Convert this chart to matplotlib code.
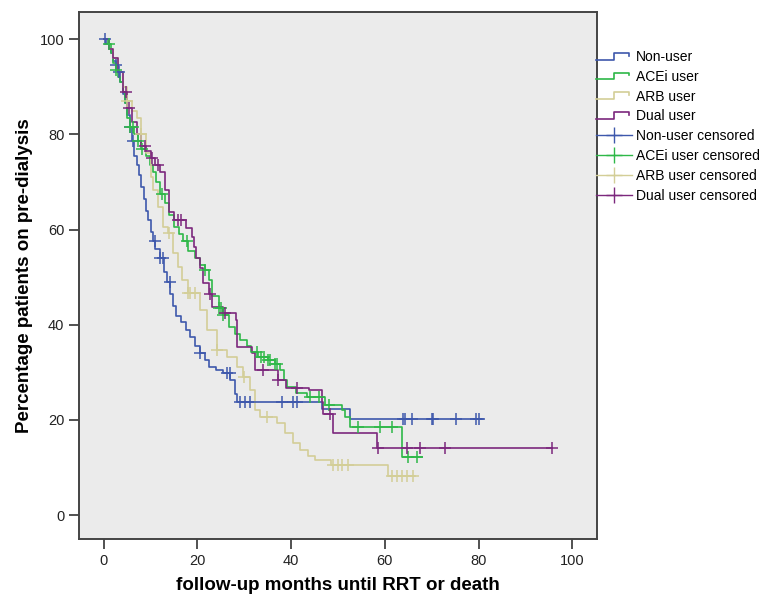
import matplotlib
matplotlib.use("Agg")
import matplotlib.pyplot as plt
from matplotlib.legend_handler import HandlerBase
from matplotlib.lines import Line2D
import numpy as np

# ── Kaplan-Meier step curves (months, % still on pre-dialysis) ─────────────────
NON_T = [0, 0.5, 1, 1.5, 2, 2.5, 3, 3.5, 4, 4.5, 5, 5.5, 6, 6.5, 7, 7.5, 8, 8.5,
         9, 9.5, 10, 10.5, 11, 12, 12.8, 13.5, 14.2, 14.8, 15.5, 16.5, 17.5,
         18.5, 19.5, 20.5, 21.5, 22.5, 24, 25.5, 27, 28, 28.5, 46.6, 52.6, 81]
NON_S = [100, 99, 98, 97, 95.5, 94.5, 93, 91, 88.5, 86.5, 84, 81.5, 78.5, 75.5,
         73.5, 71.5, 69, 66.5, 64, 62, 59.5, 57.5, 56, 54, 51, 49, 46.5, 44,
         41.8, 40.5, 39, 37.5, 35.5, 34, 32.5, 31.2, 30.5, 29.8, 28.3, 25.5,
         23.7, 22.3, 20.2, 20.2]
NON_CENS = [0.3, 2.5, 3.3, 5.5, 6.2, 10.9, 12, 12.6, 14.1, 20.5, 26.3, 26.9,
            29, 30.1, 31.2, 38, 40.4, 41.2, 63.9, 64.3, 65.8, 70.1, 70.3,
            75.2, 79.5, 80.1]

ACE_T = [0, 0.8, 1.5, 2, 2.5, 3, 3.5, 4, 4.5, 5, 5.5, 6.5, 7.2, 8, 9, 9.8, 10.5,
         11.2, 12, 13, 14, 15, 16, 17, 18, 19.5, 20.5, 21.5, 22.5, 23.2, 24.5,
         25.5, 26.8, 28, 29, 30.5, 31.5, 33, 35, 36.5, 37.6, 38.5, 39.2, 41,
         43.4, 47.2, 50.9, 51.5, 52.6, 63.7, 68]
ACE_S = [100, 99, 97, 95, 93.5, 92, 91, 89, 86.5, 83.5, 81.5, 80, 78.5, 77,
         75.5, 73.5, 72, 70, 67.5, 65.5, 63, 60.5, 59, 57.5, 55.5, 54, 52.5,
         51.5, 49.5, 46, 43.5, 42, 39.5, 38, 36.8, 35.5, 34.2, 33.3, 32.5,
         31.8, 30.5, 28.5, 27, 25.6, 24.8, 23.1, 22, 20.6, 18.5, 12.2, 12.2]
ACE_CENS = [1.0, 2.5, 5.5, 6.2, 7.3, 8.1, 12.4, 17.7, 21.6, 24.5, 25, 25.5,
            32.7, 33.5, 34.2, 35, 35.5, 36.5, 37, 44, 46, 48, 54.3, 59,
            61.5, 65, 66.9]

ARB_T = [0, 1, 2, 3, 4, 5, 6, 7, 8, 9, 10, 10.5, 11.5, 12.6, 13.7, 14.7, 15.8,
         16.7, 17.9, 20.5, 22, 24.1, 26.3, 28.4, 29.7, 31.2, 32.3, 33.3, 37,
         38.7, 40.4, 41.9, 43.5, 45, 48.5, 60.7, 66.5]
ARB_S = [100, 98, 96, 93, 90, 87, 85, 83.5, 80, 76, 71, 68.3, 64.7, 60.5, 59.2,
         55, 52.1, 49.4, 46.6, 43, 38.9, 34.7, 33.2, 31.1, 29, 26.3, 22, 20.6,
         19.3, 17.2, 15.1, 13.7, 12.5, 11.5, 10.5, 8.2, 8.2]
ARB_CENS = [5, 8, 13.9, 18, 18.5, 19.5, 24.1, 30, 34.8, 49, 50, 50.9, 52.1,
            61.5, 62.6, 63.7, 64.7, 66]

DUAL_T = [0, 1, 2, 3, 4, 5, 6, 7, 8, 9, 10, 11, 12, 13, 14, 15, 17.5, 18.8,
          19.2, 19.6, 20.5, 21.2, 22.4, 23.2, 25.5, 28.3, 28.5, 31.6, 32.2,
          37.2, 38.8, 43.8, 46.5, 46.8, 48.9, 58.4, 95.7]
DUAL_S = [100, 98, 96, 93, 89, 85.5, 82.5, 80, 77.5, 76.5, 75, 73.5, 72, 68.3,
          63.7, 62, 60.3, 58.4, 56.3, 54, 52, 48.7, 46.5, 43.7, 42.4, 41, 35.3,
          34, 30.5, 28.4, 26.8, 26.3, 23.7, 21.2, 17.2, 14.2, 14.2]
DUAL_CENS = [4.8, 5.3, 8.8, 10.3, 11.5, 15.8, 16.5, 22.6, 25.9, 34, 37.2,
             41.2, 48.3, 58.5, 64.7, 67.5, 72.9, 95.7]

GROUPS = ["Non-user", "ACEi user", "ARB user", "Dual user"]
CURVES = [(NON_T, NON_S, NON_CENS), (ACE_T, ACE_S, ACE_CENS),
          (ARB_T, ARB_S, ARB_CENS), (DUAL_T, DUAL_S, DUAL_CENS)]
COLORS = ["#3E58AC", "#2EB848", "#D3CE97", "#7C287D"]

X_TICKS = [0, 20, 40, 60, 80, 100]
Y_TICKS = [0, 20, 40, 60, 80, 100]


def step_value(times, surv, t):
    """Survival value of a step curve at time t."""
    idx = np.searchsorted(times, t, side="right") - 1
    return np.asarray(surv)[idx]


class StepHandler(HandlerBase):
    """SPSS-like legend key: a small step."""
    def create_artists(self, legend, orig_handle, xdescent, ydescent,
                       width, height, fontsize, trans):
        w, h = width, height
        xs = np.array([0, 0.5, 0.5, 0.9, 0.9]) * w - xdescent
        ys = np.array([0.15, 0.15, 0.85, 0.85, 0.55]) * h - ydescent
        line = Line2D(xs, ys, color=orig_handle.get_color(), lw=1.2)
        line.set_transform(trans)
        return [line]


plt.rcParams["font.family"] = ["Liberation Sans", "DejaVu Sans"]

fig = plt.figure(figsize=(7.78, 6.02), dpi=100)
ax = fig.add_axes([79 / 778, 1 - 539 / 602, (597 - 79) / 778, (539 - 12) / 602])
ax.set_facecolor("#EBEBEB")

curve_handles, cens_handles = [], []
for name, (t, s, cens), col in zip(GROUPS, CURVES, COLORS):
    ln, = ax.plot(t, s, drawstyle="steps-post", color=col, lw=1.2, zorder=3)
    cy = step_value(t, s, cens)
    ax.plot(cens, cy, linestyle="none", marker="+", markersize=8,
            mew=1.1, color=col, zorder=4)
    curve_handles.append(ln)
    cens_handles.append(Line2D([0], [0], color=col, lw=1.0, marker="+",
                               markersize=11, mew=1.0))

ax.set_xlim(-5.3, 105.3)
ax.set_ylim(-5.0, 105.7)
ax.set_xticks(X_TICKS)
ax.set_yticks(Y_TICKS)
ax.tick_params(direction="out", length=7, width=1.2, color="#333333",
               labelsize=10.5, labelcolor="#222222")
for sp in ax.spines.values():
    sp.set_color("#444444")
    sp.set_linewidth(1.4)

ax.set_xlabel("follow-up months until RRT or death", fontsize=13.5,
              fontweight="bold", labelpad=7)
ax.set_ylabel("Percentage patients on pre-dialysis", fontsize=13.5,
              fontweight="bold", labelpad=5)

labels = GROUPS + [g + " censored" for g in GROUPS]
fig.legend(curve_handles + cens_handles, labels,
           handler_map={h: StepHandler() for h in curve_handles},
           loc="upper left", bbox_to_anchor=(596 / 778, 1 - 50 / 602),
           frameon=False, fontsize=10, handlelength=2.6, handletextpad=0.3,
           labelspacing=0.42, borderaxespad=0, borderpad=0)

fig.savefig("out.png", dpi=100)
